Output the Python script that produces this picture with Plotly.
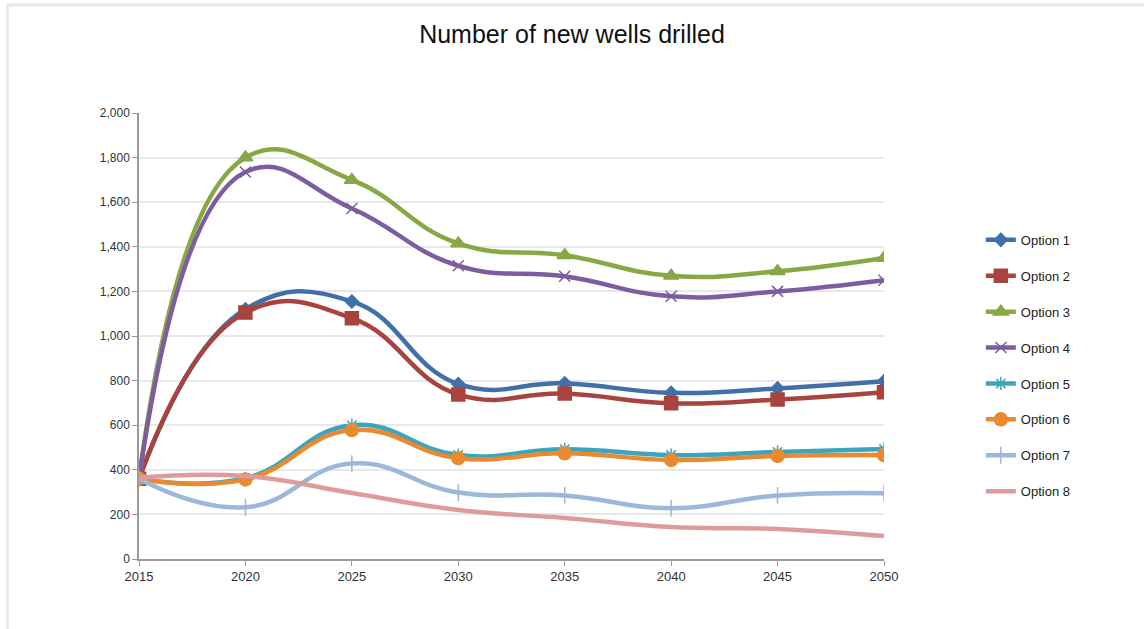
import plotly.graph_objects as go

years = [2015, 2020, 2025, 2030, 2035, 2040, 2045, 2050]

option_1 = [360, 1120, 1155, 785, 788, 745, 765, 797]
option_2 = [360, 1105, 1080, 738, 742, 698, 715, 748]
option_3 = [360, 1800, 1700, 1415, 1362, 1270, 1290, 1350]
option_4 = [360, 1735, 1572, 1315, 1268, 1178, 1200, 1250]
option_5 = [360, 362, 600, 466, 492, 466, 480, 493]
option_6 = [360, 357, 578, 452, 474, 444, 462, 466]
option_7 = [360, 232, 428, 298, 285, 228, 285, 295]
option_8 = [365, 372, 296, 220, 184, 143, 135, 103]

names = ["Option 1", "Option 2", "Option 3", "Option 4",
         "Option 5", "Option 6", "Option 7", "Option 8"]
series = [option_1, option_2, option_3, option_4,
          option_5, option_6, option_7, option_8]
colors = ["#4170A8", "#A9433D", "#87A845", "#7D5CA1",
          "#3CA5BE", "#EA8A30", "#9CB7DC", "#DD9C9B"]
symbols = ["diamond", "square", "triangle-up", "x-thin",
           "asterisk", "circle", "cross-thin", "line-ew"]
sizes = [10, 13, 13, 11, 11, 13, 12, 8]

fig = go.Figure()
for i, (name, vals) in enumerate(zip(names, series)):
    fig.add_trace(go.Scatter(
        x=years, y=vals, name=name, mode="lines+markers",
        line=dict(color=colors[i], width=4.5, shape="spline", smoothing=1.3),
        marker=dict(symbol=symbols[i], size=sizes[i], color=colors[i],
                    line=dict(color=colors[i], width=1.5)),
        legendgroup=name,
    ))

fig.update_layout(
    width=1144, height=629,
    paper_bgcolor="white", plot_bgcolor="white",
    margin=dict(l=139, r=260, t=113, b=70),
    title=dict(text="Number of new wells drilled", x=0.5, xanchor="center",
               y=0.945, yanchor="middle",
               font=dict(family="Liberation Sans, Arial", size=25, color="#111")),
    font=dict(family="Liberation Sans, Arial", size=12, color="#333"),
    xaxis=dict(range=[2015, 2050], tickvals=years, ticktext=[str(y) for y in years],
               showgrid=False, zeroline=False, showline=True, linecolor="#999",
               linewidth=1.5, ticks="outside", ticklen=5, tickcolor="#999",
               tickfont=dict(size=13, color="#333")),
    yaxis=dict(range=[0, 2000], dtick=200, tickformat=",d",
               showgrid=True, gridcolor="#E8E8E8", gridwidth=1.5,
               zeroline=False, showline=True, linecolor="#999", linewidth=1.5,
               ticks="outside", ticklen=5, tickcolor="#999",
               tickfont=dict(size=12, color="#333")),
    legend=dict(x=1.13, xanchor="left", y=0.433, yanchor="middle",
                font=dict(size=13, color="#222"), tracegroupgap=16,
                itemwidth=30, bgcolor="rgba(0,0,0,0)"),
    shapes=[
        dict(type="line", xref="paper", yref="paper",
             x0=-133 / 745, x1=1005 / 745, y0=1 + 108 / 446, y1=1 + 108 / 446,
             line=dict(color="#E8E8E8", width=3)),
        dict(type="line", xref="paper", yref="paper",
             x0=-131.5 / 745, x1=-131.5 / 745, y0=1 + 108 / 446, y1=-70 / 446,
             line=dict(color="#E8E8E8", width=3)),
    ],
)

fig.write_html("out.html")
